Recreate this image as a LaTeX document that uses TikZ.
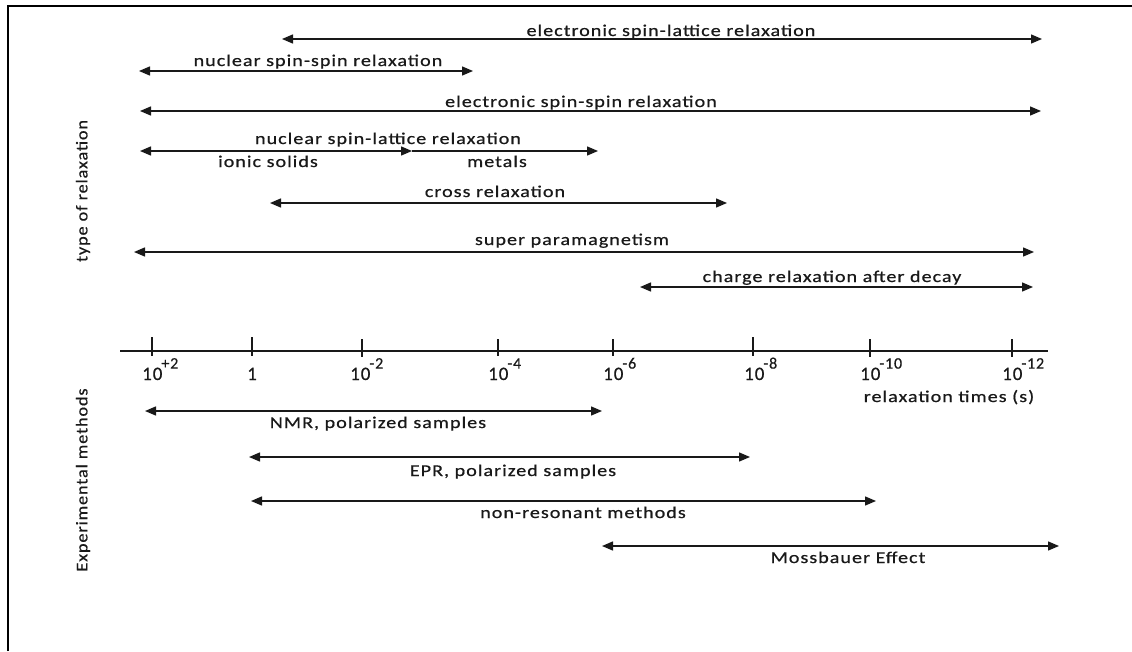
\documentclass[tikz,border=0pt]{standalone}
\usepackage{fontspec}
\setmainfont{Carlito}
\newfontfamily\lblfont[LetterSpace=5, FakeBold=0.5]{Carlito}
\usetikzlibrary{arrows.meta}

\newcommand\tickexp[1]{\kern-1pt\raisebox{0.6em}{\fontsize{16}{16}\selectfont #1}}

\begin{document}
\begin{tikzpicture}[
    x=1pt, y=-1pt,
    >={Triangle[length=11pt, width=9pt]},
    txt/.style={font=\lblfont\fontsize{16.5}{19}\selectfont, text=black!90,
                inner sep=0pt, xscale=1.22},
    vtxt/.style={font=\lblfont\fontsize{16.5}{19}\selectfont, text=black!90,
                inner sep=0pt, rotate=90, xscale=1.1},
    ttxt/.style={font=\lblfont\fontsize{19}{21}\selectfont, text=black!90,
                inner sep=0pt, anchor=base west},
    rng/.style={<->, draw=black!90, line width=1.4pt},
    one/.style={->, draw=black!90, line width=1.4pt},
    tick/.style={draw=black!90, line width=1.4pt},
  ]

  %% frame and canvas
  \fill[white] (0,0) rectangle (1132,651);
  \useasboundingbox (0,0) rectangle (1132,651);
  \draw[line width=2pt] (8,651) -- (8,5.5) -- (1133,5.5);

  %% ===== type of relaxation (top) =====
  \node[vtxt] (typT) at (83,191) {type of relaxation};

  \coordinate (eslA) at (282,39);  \coordinate (eslB) at (1042,39);
  \draw[rng] (eslA) -- (eslB);
  \node[txt, anchor=base] (eslT) at (671,36) {electronic spin-lattice relaxation};

  \coordinate (nssA) at (139,71);  \coordinate (nssB) at (473,71);
  \draw[rng] (nssA) -- (nssB);
  \node[txt, anchor=base] (nssT) at (318,66) {nuclear spin-spin relaxation};

  \coordinate (essA) at (140,111); \coordinate (essB) at (1041,111);
  \draw[rng] (essA) -- (essB);
  \node[txt, anchor=base] (essT) at (581,107) {electronic spin-spin relaxation};

  %% nuclear spin-lattice: two ranges joined in the middle
  \coordinate (nslA) at (140,151); \coordinate (nslM) at (412,151);
  \coordinate (nslB) at (598,151);
  \draw[rng] (nslA) -- (nslM);
  \draw[one] (nslM) -- (nslB);
  \node[txt, anchor=base] (nslT) at (388,144) {nuclear spin-lattice relaxation};
  \node[txt, anchor=base] (ionT) at (268,167) {ionic solids};
  \node[txt, anchor=base] (metT) at (497,167) {metals};

  \coordinate (croA) at (270,203); \coordinate (croB) at (727,203);
  \draw[rng] (croA) -- (croB);
  \node[txt, anchor=base] (croT) at (495,197) {cross relaxation};

  \coordinate (supA) at (134,252); \coordinate (supB) at (1034,252);
  \draw[rng] (supA) -- (supB);
  \node[txt, anchor=base] (supT) at (572,245) {super paramagnetism};

  \coordinate (chgA) at (640,287); \coordinate (chgB) at (1033,287);
  \draw[rng] (chgA) -- (chgB);
  \node[txt, anchor=base] (chgT) at (832,282) {charge relaxation after decay};

  %% ===== time axis =====
  \coordinate (axA) at (120,351); \coordinate (axB) at (1048,351);
  \draw[tick] (axA) -- (axB);

  \coordinate (tp2) at (152,351);
  \coordinate (t0)  at (252,351);
  \coordinate (tm2) at (362,351);
  \coordinate (tm4) at (498,351);
  \coordinate (tm6) at (613,351);
  \coordinate (tm8) at (753,351);
  \coordinate (tm10) at (870,351);
  \coordinate (tm12) at (1012,351);

  \draw[tick] ([yshift=14pt]tp2) -- ([yshift=-5pt]tp2);
  \draw[tick] ([yshift=14pt]t0)  -- ([yshift=-5pt]t0);
  \draw[tick] ([yshift=12pt]tm2) -- ([yshift=-6pt]tm2);
  \draw[tick] ([yshift=12pt]tm4) -- ([yshift=-5pt]tm4);
  \draw[tick] ([yshift=12pt]tm6) -- ([yshift=-5pt]tm6);
  \draw[tick] ([yshift=14pt]tm8) -- ([yshift=-5pt]tm8);
  \draw[tick] ([yshift=12pt]tm10) -- ([yshift=-6pt]tm10);
  \draw[tick] ([yshift=12pt]tm12) -- ([yshift=-6pt]tm12);

  \node[ttxt] (lp2)  at (142,380) {10\tickexp{+2}};
  \node[ttxt, anchor=base] (l0) at (252,380) {1};
  \node[ttxt] (lm2)  at (350,380) {10\tickexp{-2}};
  \node[ttxt] (lm4)  at (488,380) {10\tickexp{-4}};
  \node[ttxt] (lm6)  at (603,380) {10\tickexp{-6}};
  \node[ttxt] (lm8)  at (744,380) {10\tickexp{-8}};
  \node[ttxt] (lm10) at (860,380) {10\tickexp{-10}};
  \node[ttxt] (lm12) at (1002,380) {10\tickexp{-12}};

  \node[txt, anchor=base] (relT) at (949,402) {relaxation times (s)};

  %% ===== experimental methods (bottom) =====
  \node[vtxt] (expT) at (83,480) {Experimental methods};

  \coordinate (nmrA) at (145,411); \coordinate (nmrB) at (602,411);
  \draw[rng] (nmrA) -- (nmrB);
  \node[txt, anchor=base] (nmrT) at (378,428) {NMR, polarized samples};

  \coordinate (eprA) at (249,457); \coordinate (eprB) at (750,457);
  \draw[rng] (eprA) -- (eprB);
  \node[txt, anchor=base] (eprT) at (513,476) {EPR, polarized samples};

  \coordinate (nonA) at (251,501); \coordinate (nonB) at (876,501);
  \draw[rng] (nonA) -- (nonB);
  \node[txt, anchor=base] (nonT) at (583,518) {non-resonant methods};

  \coordinate (mosA) at (602,546); \coordinate (mosB) at (1059,546);
  \draw[rng] (mosA) -- (mosB);
  \node[txt, anchor=base] (mosT) at (848,563) {Mossbauer Effect};

\end{tikzpicture}
\end{document}
